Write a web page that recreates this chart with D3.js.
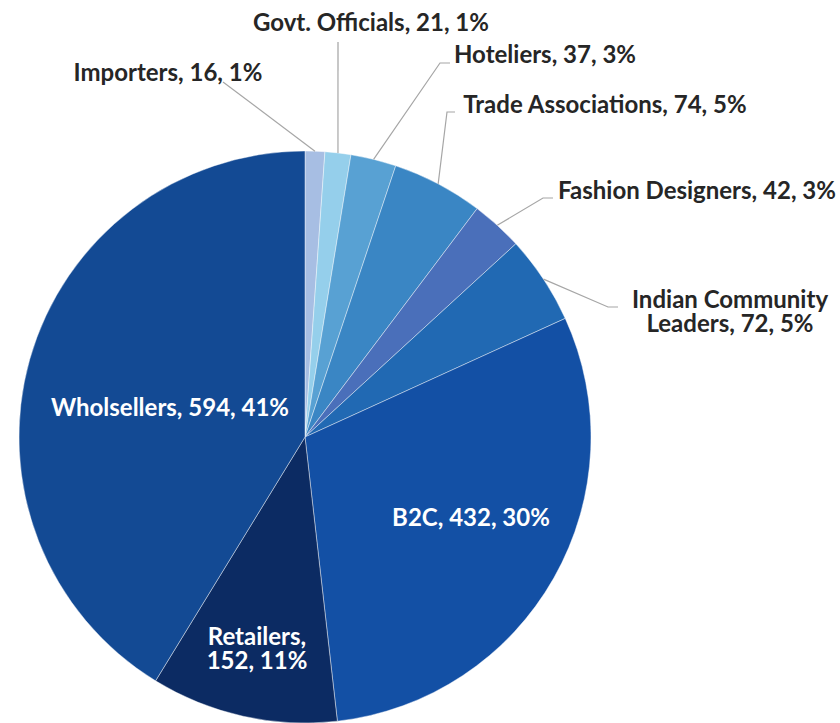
<!DOCTYPE html>
<html>
<head>
<meta charset="utf-8">
<script src="https://cdn.jsdelivr.net/npm/d3@7"></script>
<style>
  html, body { margin: 0; padding: 0; background: #fff; }
  svg { display: block; }
  text { font-family: Lato, "Open Sans", sans-serif; font-weight: 700; }
</style>
</head>
<body>
<svg id="chart" width="840" height="723"></svg>
<script>
// data, clockwise from 12 o'clock
var categories = ['Importers', 'Govt. Officials', 'Hoteliers', 'Trade Associations', 'Fashion Designers',
  'Indian Community Leaders', 'B2C', 'Retailers', 'Wholsellers'];
var values = [16, 21, 37, 74, 42, 72, 432, 152, 594];
var percents = ['1%', '1%', '3%', '5%', '3%', '5%', '30%', '11%', '41%'];
var colors = ['#a7bee3', '#95cfeb', '#58a1d3', '#3a86c4', '#4a6fba', '#2169b3', '#1350a5', '#0c2b63', '#134a94'];

// label layout: text lines, centre x, first baseline y, inside or not, leader elbow/end
var labelLayout = [
  { lines: null, x: 168, y: 81, inside: false, leader: [[223, 82]] },
  { lines: null, x: 371, y: 31, inside: false, leader: [[338, 42]] },
  { lines: null, x: 545, y: 63, inside: false, leader: [[440, 63], [450, 63]] },
  { lines: null, x: 605, y: 113, inside: false, leader: [[447, 112], [455, 112]] },
  { lines: null, x: 697, y: 199, inside: false, leader: [[543, 198], [553, 198]] },
  { lines: ['Indian Community', 'Leaders, 72, 5%'], x: 730, y: 308, inside: false, leader: [[608, 307], [618, 307]] },
  { lines: null, x: 471, y: 526, inside: true },
  { lines: ['Retailers,', '152, 11%'], x: 257, y: 645, inside: true },
  { lines: null, x: 170, y: 416, inside: true }
];

var cx = 305, cy = 437, R = 286, FS = 24, LH = 24;
var svg = d3.select('#chart');
var g = svg.append('g').attr('transform', 'translate(' + cx + ',' + cy + ')');

var pie = d3.pie().sort(null).value(function (d) { return d; });
var arcs = pie(values);
var arc = d3.arc().innerRadius(0).outerRadius(R);

g.selectAll('path.slice').data(arcs).enter().append('path')
  .attr('class', 'slice')
  .attr('d', arc)
  .attr('fill', function (d, i) { return colors[i]; })
  .attr('stroke', '#ffffff').attr('stroke-width', 0.6).attr('stroke-opacity', 0.7);

function edgePoint(d) {
  var a = (d.startAngle + d.endAngle) / 2;
  return [cx + R * Math.sin(a), cy - R * Math.cos(a)];
}

// leader lines
arcs.forEach(function (d, i) {
  var L = labelLayout[i];
  if (L.inside) return;
  var pts = [edgePoint(d)].concat(L.leader);
  svg.append('path')
    .attr('d', d3.line()(pts))
    .attr('fill', 'none').attr('stroke', '#a6a6a6').attr('stroke-width', 1.2);
});

// labels
arcs.forEach(function (d, i) {
  var L = labelLayout[i];
  var lines = L.lines || [categories[i] + ', ' + values[i] + ', ' + percents[i]];
  var t = svg.append('text')
    .attr('text-anchor', 'middle')
    .attr('font-size', FS)
    .attr('fill', L.inside ? '#ffffff' : '#262626');
  lines.forEach(function (s, k) {
    t.append('tspan').attr('x', L.x).attr('y', L.y + k * LH).text(s);
  });
});
</script>
</body>
</html>
